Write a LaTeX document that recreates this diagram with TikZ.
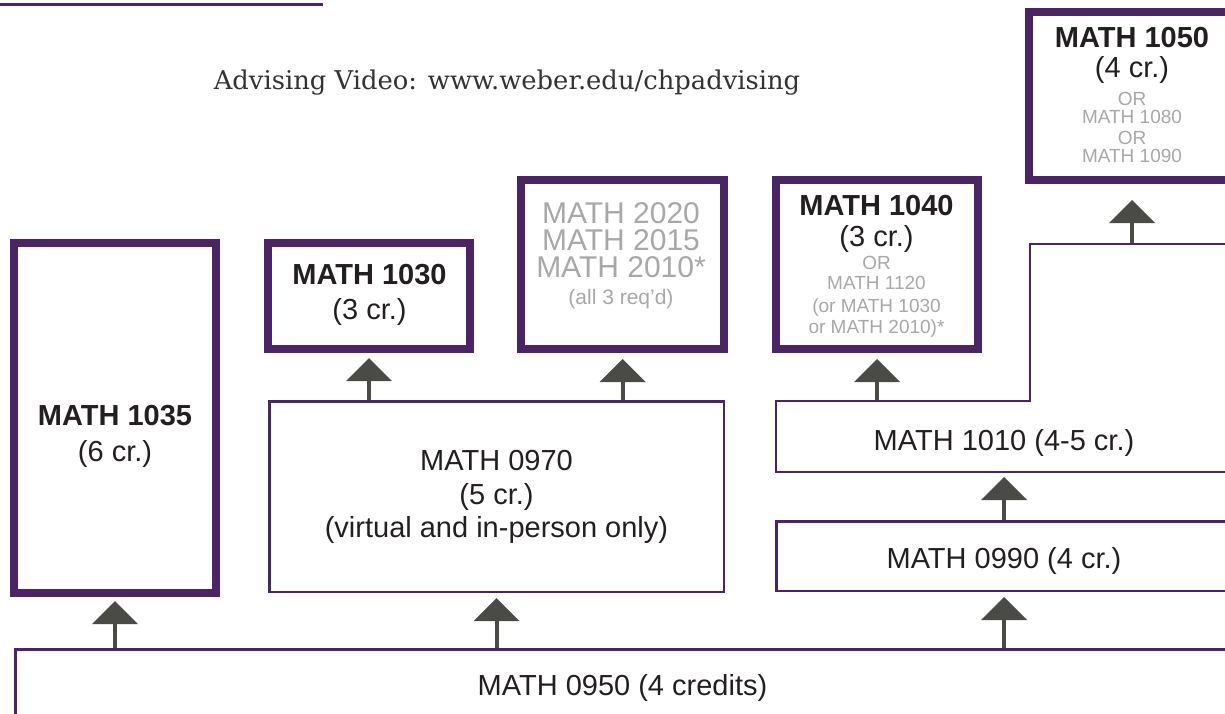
\documentclass[tikz,border=0pt]{standalone}
\usepackage{fontspec}
\setmainfont{Liberation Sans}
\newfontfamily\headfont{DejaVu Serif}
\usetikzlibrary{arrows.meta}

\definecolor{wsupurple}{HTML}{4B2467}
\definecolor{arrowgray}{HTML}{4A4A46}
\definecolor{softgray}{HTML}{A8A8A8}
\definecolor{inkblack}{HTML}{231F20}

\newcommand{\mainsz}{\fontsize{29}{35}\selectfont}
\newcommand{\smallsz}{\fontsize{19}{35}\selectfont}
\newcommand{\altcourse}[1]{{\smallsz\color{softgray}#1}}

\tikzset{
	thickbox/.style={draw=wsupurple,line width=8pt,fill=white,inner sep=0pt},
	thinbox/.style={draw=wsupurple,line width=2.5pt,inner sep=0pt},
	boxtext/.style={font=\mainsz,text=inkblack,align=center,inner sep=0pt},
	uparrow/.style={draw=arrowgray,line width=4pt,-{Triangle[width=46pt,length=23pt,line width=0pt]}},
}

\begin{document}
\begin{tikzpicture}[x=1pt,y=-1pt]
	\useasboundingbox (0,0) rectangle (1225,713);

	\draw[wsupurple,line width=3pt] (0,4.5) -- (323,4.5);
	\node[font=\headfont\fontsize{25.8}{30}\selectfont,text=black!80,anchor=base,inner sep=0pt] (video) at (507,89) {Advising Video: www.weber.edu/chpadvising};

	% purple boxes
	\node[thickbox,minimum width=202pt,minimum height=350pt] (b1035) at (115,418) {};
	\node[thickbox,minimum width=202pt,minimum height=106pt] (b1030) at (369,296) {};
	\node[thickbox,minimum width=203pt,minimum height=169pt] (b2020) at (622.5,264.5) {};
	\node[thickbox,minimum width=202pt,minimum height=169pt] (b1040) at (877,264.5) {};
	\node[thickbox,minimum width=202pt,minimum height=168pt] (b1050) at (1130,96) {};

	% thin boxes
	\node[thinbox,minimum width=454.5pt,minimum height=190.5pt] (b0970) at (496.5,496.5) {};
	\node[thinbox,minimum width=455.5pt,minimum height=69.5pt] (b0990) at (1004,556) {};
	\node[thinbox,minimum width=1214.5pt,minimum height=69.5pt] (b0950) at (622.5,684) {};
	\draw[wsupurple,line width=2.5pt] (776,401) -- (1030,401) -- (1030,244) -- (1234,244) -- (1234,472) -- (776,472) -- cycle;
	\coordinate (s1040) at (877,400);
	\coordinate (s1050) at (1132,243);

	% texts
	\node[boxtext] (t1035) at (115,436.5) {\textbf{MATH 1035}\\[1pt] (6 cr.)};
	\node[boxtext] (t1030) at (369.5,294.5) {\textbf{MATH 1030}\\ (3 cr.)};
	\node[boxtext,font=\fontsize{30}{35}\selectfont,text=softgray] (t2020) at (621,256) {MATH 2020\\[-8pt] MATH 2015\\[-8pt] MATH 2010*\\[-8pt] {\fontsize{21}{35}\selectfont (all 3 req’d)}};
	\node[boxtext] (t1040) at (876.5,266) {\textbf{MATH 1040}\\[-4pt] (3 cr.)\\[-12pt] \altcourse{OR}\\[-15pt] \altcourse{MATH 1120}\\[-12pt] \altcourse{(or MATH 1030}\\[-14pt] \altcourse{or MATH 2010)*}};
	\node[boxtext] (t1050) at (1132,95) {\textbf{MATH 1050}\\[-5pt] (4 cr.)\\[-7pt] \altcourse{OR}\\[-17pt] \altcourse{MATH 1080}\\[-14pt] \altcourse{OR}\\[-17pt] \altcourse{MATH 1090}};
	\node[boxtext] (t0970) at (496.5,497) {MATH 0970\\[-1pt] (5 cr.)\\[-2pt] (virtual and in-person only)};
	\node[boxtext,anchor=base] (t1010) at (1004,450) {MATH 1010 (4-5 cr.)};
	\node[boxtext,anchor=base] (t0990) at (1004,568) {MATH 0990 (4 cr.)};
	\node[boxtext,anchor=base] (t0950) at (622.5,695) {MATH 0950 (4 credits)};

	% arrows
	\draw[uparrow,shorten >=4pt] (b0950.north -| b1035.south) -- (b1035.south);
	\draw[uparrow,shorten >=5pt] (b0950.north -| b0970.south) -- (b0970.south);
	\draw[uparrow,shorten >=5pt] (b0950.north -| b0990.south) -- (b0990.south);
	\draw[uparrow,shorten >=4pt] (b0990.north) -- (b0990.north |- 0,473);
	\draw[uparrow,shorten >=5pt] (b0970.north -| b1030.south) -- (b1030.south);
	\draw[uparrow,shorten >=6pt] (b0970.north -| b2020.south) -- (b2020.south);
	\draw[uparrow,shorten >=6pt] (s1040) -- (b1040.south);
	\draw[uparrow,shorten >=16pt] (s1050) -- (s1050 |- b1050.south);
\end{tikzpicture}
\end{document}
